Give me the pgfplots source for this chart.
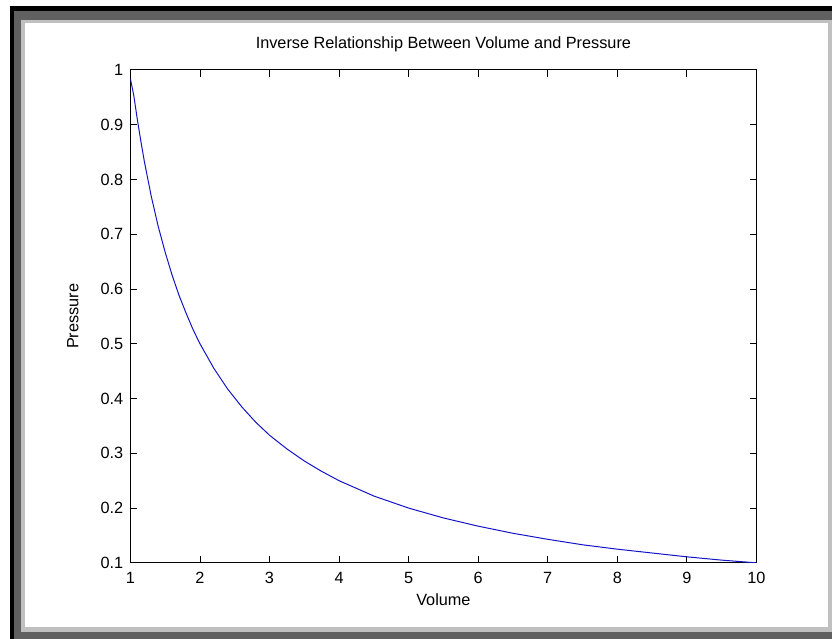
\documentclass[border=0pt]{standalone}
\usepackage{fontspec}
\setmainfont{Liberation Sans}
\usepackage{pgfplots}
\pgfplotsset{compat=1.18}
\definecolor{dkgray}{RGB}{96,96,96}
\definecolor{ltgray}{RGB}{192,192,192}
\definecolor{lineblue}{RGB}{20,20,200}
\begin{document}
\fontsize{12}{14}\selectfont
\begin{tikzpicture}[x=0.75pt,y=0.75pt]
\useasboundingbox (0,0) rectangle (832,639);
\fill[white] (0,0) rectangle (832,639);
% screenshot frame
\fill[black] (10,0) rectangle (14,633);
\fill[black] (10,628) rectangle (832,633);
\fill[dkgray] (14,0) rectangle (21,628);
\fill[dkgray] (14,619) rectangle (832,628);
\fill[dkgray] (14,0) rectangle (832,7);
\fill[ltgray] (21,7) rectangle (25,619);
\fill[ltgray] (21,616) rectangle (832,619);
\fill[ltgray] (21,7) rectangle (832,12);
\fill[ltgray] (828,7) rectangle (832,619);
\begin{axis}[
  at={(187.5,139)}, anchor=south west,
  scale only axis,
  width=469.5pt, height=369.75pt,
  xmin=1, xmax=10, ymin=0.1, ymax=1,
  xtick={1,2,...,10},
  ytick={0.1,0.2,0.3,0.4,0.5,0.6,0.7,0.8,0.9,1},
  yticklabels={0.1,0.2,0.3,0.4,0.5,0.6,0.7,0.8,0.9,1},
  tick align=inside,
  major tick length=5pt,
  xtick pos=both, ytick pos=both,
  xticklabel pos=bottom, yticklabel pos=left,
  axis line style={black, line width=0.75pt},
  every tick/.style={black, line width=0.6pt},
  /pgf/number format/assume math mode=true,
  tick label style={font=\fontsize{12.2}{14}\selectfont},
  xticklabel style={anchor=base, yshift=-15.75pt},
  yticklabel style={anchor=east, inner sep=0pt, xshift=-5.25pt},
  title={Inverse Relationship Between Volume and Pressure},
  title style={at={(axis description cs:0.5,1.0263)}, anchor=base, font=\fontsize{12.2}{14}\selectfont},
  xlabel={Volume},
  xlabel style={at={(axis description cs:0.5,-0.0872)}, anchor=base, font=\fontsize{12.2}{14}\selectfont},
  ylabel={Pressure},
  ylabel style={at={(axis description cs:-0.0831,0.5)}, anchor=base, font=\fontsize{12.2}{14}\selectfont},
]
\addplot[lineblue, line width=0.75pt] coordinates {
(1.0,0.984) (1.05,0.952) (1.1,0.909) (1.15,0.870) (1.2,0.833) (1.3,0.769)
(1.4,0.714) (1.5,0.667) (1.6,0.625) (1.7,0.588) (1.8,0.556) (1.9,0.526)
(2.0,0.500) (2.2,0.455) (2.4,0.417) (2.6,0.385) (2.8,0.357) (3.0,0.333)
(3.25,0.308) (3.5,0.286) (3.75,0.267) (4.0,0.250) (4.5,0.222) (5.0,0.200)
(5.5,0.182) (6.0,0.167) (6.5,0.154) (7.0,0.143) (7.5,0.133) (8.0,0.125)
(8.5,0.118) (9.0,0.111) (9.5,0.105) (10.0,0.100)
};
\end{axis}
\end{tikzpicture}
\end{document}
